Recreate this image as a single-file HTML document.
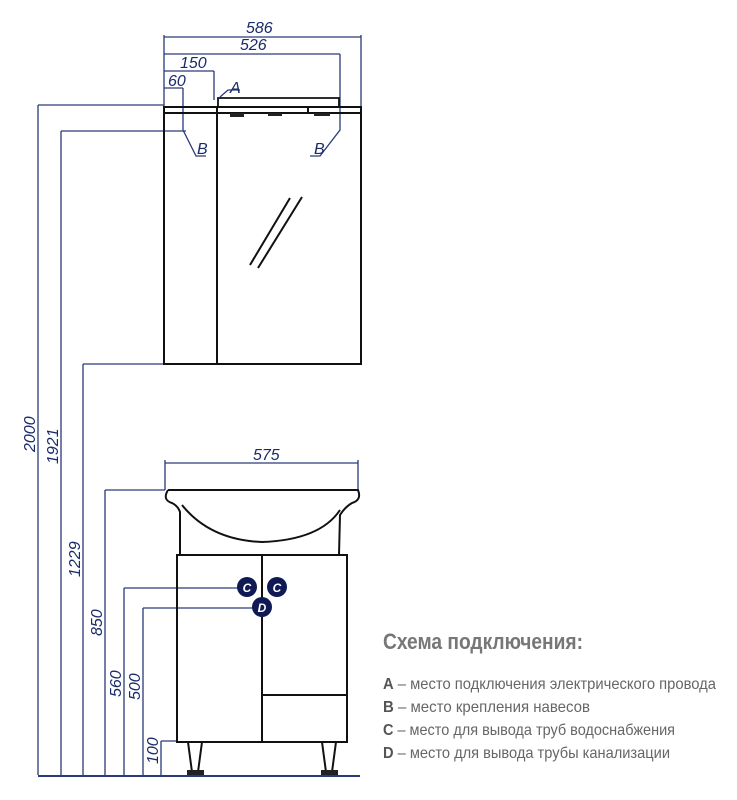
<!DOCTYPE html>
<html><head><meta charset="utf-8"><style>
html,body{margin:0;padding:0;background:#fff;width:737px;height:800px;overflow:hidden}
svg{display:block}
.d{stroke:#2a3a7a;stroke-width:1.3;fill:none}
.k{stroke:#111;stroke-width:2;fill:none}
.t{font-family:"Liberation Sans Narrow","Liberation Sans","DejaVu Sans",sans-serif;font-style:italic;fill:#1a2a6a;font-size:16px}
.l{font-family:"Liberation Sans Narrow","Liberation Sans","DejaVu Sans",sans-serif;fill:#666;font-size:16px}
</style></head><body>
<svg width="737" height="800" viewBox="0 0 737 800">
<g class="d">
<path d="M38,105 H164 M38,105 V775"/>
<path d="M61,131 H186 M61,131 V775"/>
<path d="M83,364 H164 M83,364 V775"/>
<path d="M105,490 H165 M105,490 V775"/>
<path d="M124,588 H240 M124,588 V775"/>
<path d="M143,608 H255 M143,608 V775"/>
<path d="M161,741 H177 M161,741 V775"/>
<path d="M38,776 H360" stroke-width="2"/>
<path d="M164,35 V108 M361,35 V108 M164,37 H361"/>
<path d="M164,54 H340 M340,54 V130 L320,156 H310"/>
<path d="M164,71 H214 M214,71 V100"/>
<path d="M164,88 H183 M183,88 V130 L196,156 H206"/>
<path d="M220,97 L228,90 H240"/>
<path d="M165,460 V490 M358,460 V490 M165,463 H358"/>
</g>
<g class="t">
<text x="246" y="33">586</text><text x="240" y="50">526</text><text x="180" y="68">150</text><text x="168" y="86">60</text>
<text x="230" y="93">A</text><text x="197" y="154">B</text><text x="314" y="154">B</text>
<text x="253" y="460">575</text>
<text transform="translate(35,452) rotate(-90)">2000</text>
<text transform="translate(58,464) rotate(-90)">1921</text>
<text transform="translate(80,577) rotate(-90)">1229</text>
<text transform="translate(102,636) rotate(-90)">850</text>
<text transform="translate(121,697) rotate(-90)">560</text>
<text transform="translate(140,700) rotate(-90)">500</text>
<text transform="translate(158,764) rotate(-90)">100</text>
</g>
<g class="k">
<rect x="164" y="107" width="197" height="257"/>
<path d="M164,113 H361 M217,107 V364"/>
<path d="M218,106 V98 H339 V106" stroke-width="1.8"/>
<path d="M308,107 V113"/>
<path d="M250,265 L290,198 M258,268 L302,197" stroke-width="2"/>
</g>
<rect x="230" y="113" width="14" height="4" fill="#222"/><rect x="268" y="113" width="14" height="3" fill="#222"/><rect x="314" y="113" width="16" height="3" fill="#222"/>
<g class="k">
<path d="M168,490 H358 Q362,500 352,503 Q345,507 340,515 L339,555 M168,490 Q162,500 172,503 Q178,506 180,512 V555"/>
<path d="M182,505 Q210,540 262,542 Q320,540 340,510"/>
<path d="M177,555 H347 V742 H177 Z"/>
<path d="M262,555 V742 M262,695 H347"/>
<path d="M188,742 L192,772 H198 L202,742 M322,742 L326,772 H332 L336,742"/>
</g>
<rect x="187" y="770" width="17" height="5" fill="#222"/><rect x="321" y="770" width="17" height="5" fill="#222"/>
<g font-family="Liberation Sans,sans-serif" font-style="italic" font-weight="bold" font-size="12" fill="#fff" text-anchor="middle">
<circle cx="247" cy="587" r="10" fill="#0f1a55"/><text x="247" y="592">C</text>
<circle cx="277" cy="587" r="10" fill="#0f1a55"/><text x="277" y="592">C</text>
<circle cx="262" cy="607" r="10" fill="#0f1a55"/><text x="262" y="612">D</text>
</g>
<text x="383" y="649" font-family="Liberation Sans Narrow,Liberation Sans,sans-serif" font-weight="bold" font-size="22" fill="#777" textLength="200" lengthAdjust="spacingAndGlyphs">Схема подключения:</text>
<g class="l">
<text x="383" y="689" textLength="333" lengthAdjust="spacingAndGlyphs"><tspan font-weight="bold" fill="#555">A</tspan> – место подключения электрического провода</text>
<text x="383" y="712" textLength="207" lengthAdjust="spacingAndGlyphs"><tspan font-weight="bold" fill="#555">B</tspan> – место крепления навесов</text>
<text x="383" y="735" textLength="292" lengthAdjust="spacingAndGlyphs"><tspan font-weight="bold" fill="#555">C</tspan> – место для вывода труб водоснабжения</text>
<text x="383" y="758" textLength="287" lengthAdjust="spacingAndGlyphs"><tspan font-weight="bold" fill="#555">D</tspan> – место для вывода трубы канализации</text>
</g>
</svg>
</body></html>
